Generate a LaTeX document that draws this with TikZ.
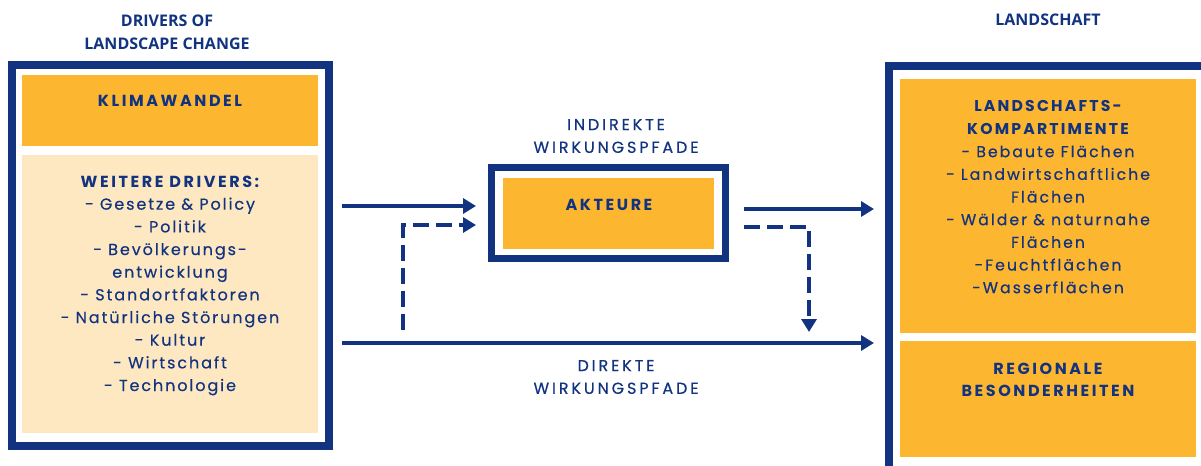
\documentclass[tikz,border=0pt]{standalone}
\usepackage{fontspec}
\usetikzlibrary{arrows.meta}
\newfontfamily\titlefont{Open Sans}
\newfontfamily\bodyfont{Poppins}[LetterSpace=12, FakeBold=0.4]
\newfontfamily\headfont{Poppins}[LetterSpace=16]
\newfontfamily\compfont{Poppins}[LetterSpace=13, FakeBold=0.4]
\newfontfamily\compheadfont{Poppins}[LetterSpace=14]
\newfontfamily\pathfont{Poppins}[LetterSpace=18, FakeBold=0.4]
\definecolor{navy}{HTML}{12337F}
\definecolor{amber}{HTML}{FDB62F}
\definecolor{cream}{HTML}{FEE8C1}
\def\px{0.75pt}
\tikzset{
  outerbox/.style={draw=navy, line width=6pt, fill=white, inner sep=0},
  panel/.style={fill=amber, inner sep=0},
  txt/.style={text=navy, align=center, inner sep=0},
  bodytxt/.style={txt, font=\bodyfont\fontsize{12}{17}\selectfont},
  headtxt/.style={txt, font=\headfont\bfseries\fontsize{12}{17}\selectfont},
  titletxt/.style={txt, font=\titlefont\bfseries\fontsize{12}{17.25}\selectfont},
  pathtxt/.style={txt, font=\pathfont\fontsize{12}{17}\selectfont},
  arr/.style={draw=navy, line width=3pt, -{Triangle[length=9.75pt,width=11.25pt]}},
  dasharr/.style={arr, dash pattern=on 12pt off 5.25pt},
}
\begin{document}
\begin{tikzpicture}[x=0.75pt, y=-0.75pt]
\useasboundingbox (0,0) rectangle (1201,466);
\clip (0,0) rectangle (1201,466);

% frames and panels
\node[outerbox, minimum width=317*\px, minimum height=381*\px] (drv) at (170.5,255.5) {};
\node[panel, minimum width=296*\px, minimum height=71*\px] (klima) at (170,110.5) {};
\node[panel, fill=cream, minimum width=296*\px, minimum height=278*\px] (weitere) at (170,294) {};

\node[outerbox, line width=5.25pt, minimum width=234*\px, minimum height=91*\px] (akt) at (608.5,213) {};
\node[panel, minimum width=211*\px, minimum height=71*\px] (aktin) at (608.5,213.5) {};

\node[outerbox, minimum width=321*\px, minimum height=404*\px] (land) at (1049.5,268) {};
\node[panel, minimum width=296*\px, minimum height=254*\px] (komp) at (1048,206) {};
\node[panel, minimum width=296*\px, minimum height=116*\px] (regio) at (1048,399) {};

% texts
\node[titletxt] (ttl) at (167,32.5) {DRIVERS OF\\LANDSCAPE CHANGE};
\node[titletxt] (landt) at (1048,20) {LANDSCHAFT};
\node[headtxt] (klimat) at (170,101) {KLIMAWANDEL};
\node[bodytxt] (weitt) at (170,285.5) {{\headfont\bfseries WEITERE DRIVERS:}\\- Gesetze \& Policy\\- Politik\\- Bevölkerungs-\\entwicklung\\- Standortfaktoren\\- Natürliche Störungen\\- Kultur\\- Wirtschaft\\- Technologie};
\node[headtxt] (aktt) at (609,205) {AKTEURE};
\node[pathtxt] (indt) at (616,136) {INDIREKTE\\WIRKUNGSPFADE};
\node[pathtxt] (dirt) at (616,377) {DIREKTE\\WIRKUNGSPFADE};
\node[txt, font=\compfont\fontsize{11.75}{17}\selectfont] (kompt) at (1048,197) {{\compheadfont\bfseries LANDSCHAFTS-}\\{\compheadfont\bfseries KOMPARTIMENTE}\\- Bebaute Flächen\\- Landwirtschaftliche\\Flächen\\- Wälder \& naturnahe\\Flächen\\-Feuchtflächen\\-Wasserflächen};
\node[headtxt] (regt) at (1048,380) {REGIONALE\\BESONDERHEITEN};

% connectors
\coordinate (a1) at (342,206);
\coordinate (a2) at (403,330);
\coordinate (b2) at (809,332);
\coordinate (c1) at (342,343);
\draw[arr, shorten >=9pt] (a1) -- (a1 -| akt.west);
\draw[dasharr, shorten >=9pt] (a2) |- ([yshift=-9pt]akt.west);
\draw[arr, shorten <=11.25pt, shorten >=8.25pt] ([yshift=3pt]akt.east) -- ([yshift=3pt]akt.east -| land.west);
\draw[dasharr, shorten <=11.25pt] ([yshift=-10.5pt]akt.east) -| (b2);
\draw[arr, shorten >=8.25pt] (c1) -- (c1 -| land.west);
\end{tikzpicture}
\end{document}
